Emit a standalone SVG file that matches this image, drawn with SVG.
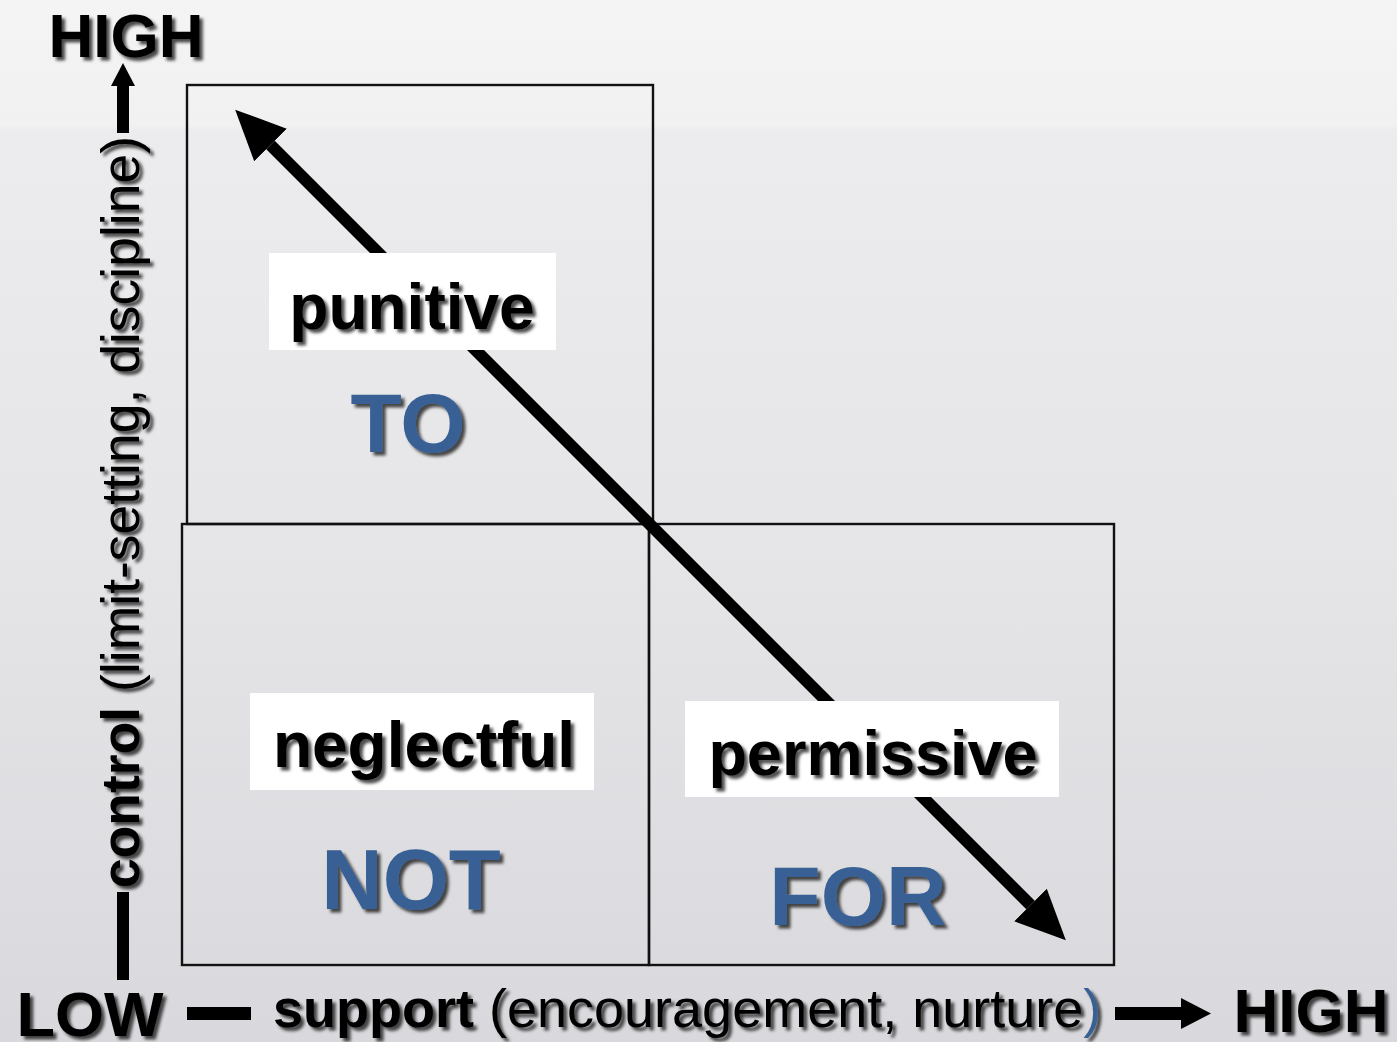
<svg xmlns="http://www.w3.org/2000/svg" width="1397" height="1042" viewBox="0 0 1397 1042">
  <defs>
    <linearGradient id="bg" x1="0" y1="0" x2="0" y2="1">
      <stop offset="0" stop-color="#f4f4f5"/>
      <stop offset="0.12" stop-color="#f1f1f2"/>
      <stop offset="0.125" stop-color="#ececee"/>
      <stop offset="0.5" stop-color="#e6e6e9"/>
      <stop offset="1" stop-color="#d9d9dd"/>
    </linearGradient>
    <filter id="sh" x="-10%" y="-10%" width="130%" height="140%">
      <feDropShadow dx="3.5" dy="3.5" stdDeviation="1.8" flood-color="#000" flood-opacity="0.7"/>
    </filter>
    <marker id="bigHead" markerUnits="userSpaceOnUse" viewBox="0 0 50 46" refX="0" refY="23" markerWidth="50" markerHeight="46" orient="auto-start-reverse">
      <path d="M0,0 L50,23 L0,46 Z" fill="#000"/>
    </marker>
    <marker id="axisHead" markerUnits="userSpaceOnUse" viewBox="0 0 30 31" refX="0" refY="15.5" markerWidth="30" markerHeight="31" orient="auto">
      <path d="M0,0 L30,15.5 L0,31 Z" fill="#000"/>
    </marker>
    <marker id="vHead" markerUnits="userSpaceOnUse" viewBox="0 0 23 24" refX="0" refY="12" markerWidth="23" markerHeight="24" orient="auto">
      <path d="M0,0 L23,12 L0,24 Z" fill="#000"/>
    </marker>
  </defs>
  <style>
    .box { fill: none; stroke: #111; stroke-width: 2.4; }
    .lbl { fill: #ffffff; }
    .word { font-family: "Liberation Sans", Arial, sans-serif; font-weight: bold; fill: #000; }
    .blue { font-family: "Liberation Sans", Arial, sans-serif; font-weight: bold; fill: #386094; }
    .axis { font-family: "Liberation Sans", Arial, sans-serif; fill: #000; }
    .thick { stroke: #000; fill: none; }
  </style>

  <rect x="0" y="0" width="1397" height="1042" fill="url(#bg)"/>

  <!-- quadrant frames -->
  <g id="quad-to">
    <rect class="box" x="187" y="85" width="466" height="439"/>
  </g>
  <g id="quad-not">
    <rect class="box" x="182" y="524" width="467" height="441"/>
  </g>
  <g id="quad-for">
    <rect class="box" x="649" y="524" width="465" height="441"/>
  </g>

  <!-- connectors -->
  <g id="connectors">
    <line class="thick" x1="270.5" y1="145" x2="1030.5" y2="905" stroke-width="12" marker-start="url(#bigHead)" marker-end="url(#bigHead)"/>
    <line class="thick" x1="123" y1="980" x2="123" y2="892" stroke-width="12"/>
    <line class="thick" x1="123" y1="133" x2="123" y2="86" stroke-width="12" marker-end="url(#vHead)"/>
    <line class="thick" x1="187" y1="1013.5" x2="251" y2="1013.5" stroke-width="13"/>
    <line class="thick" x1="1115" y1="1013.5" x2="1181" y2="1013.5" stroke-width="13" marker-end="url(#axisHead)"/>
  </g>

  <!-- quadrant labels -->
  <g id="label-punitive">
    <rect class="lbl" x="269" y="253" width="287" height="97"/>
    <text class="word" x="412" y="329" font-size="64" text-anchor="middle" filter="url(#sh)">punitive</text>
  </g>
  <g id="label-to">
    <text class="blue" x="408" y="452" font-size="84" text-anchor="middle" filter="url(#sh)">TO</text>
  </g>
  <g id="label-neglectful">
    <rect class="lbl" x="250" y="693" width="344" height="97"/>
    <text class="word" x="424" y="767" font-size="64" text-anchor="middle" filter="url(#sh)">neglectful</text>
  </g>
  <g id="label-not">
    <text class="blue" x="411" y="909" font-size="85" text-anchor="middle" filter="url(#sh)">NOT</text>
  </g>
  <g id="label-permissive">
    <rect class="lbl" x="685" y="701" width="374" height="96"/>
    <text class="word" x="873" y="775" font-size="63" text-anchor="middle" filter="url(#sh)">permissive</text>
  </g>
  <g id="label-for">
    <text class="blue" x="858" y="925" font-size="84" text-anchor="middle" filter="url(#sh)">FOR</text>
  </g>

  <!-- axis labels -->
  <g id="axis-labels">
    <text class="axis" x="126" y="57" font-size="62" font-weight="bold" text-anchor="middle" filter="url(#sh)">HIGH</text>
    <text class="axis" x="90" y="1036" font-size="63" font-weight="bold" text-anchor="middle" filter="url(#sh)">LOW</text>
    <text class="axis" x="1311" y="1032" font-size="62" font-weight="bold" text-anchor="middle" filter="url(#sh)">HIGH</text>
    <text class="axis" x="273" y="1027" font-size="54" filter="url(#sh)"><tspan font-weight="bold">support</tspan> (encouragement, nurture<tspan fill="#386094">)</tspan></text>
    <g filter="url(#sh)">
      <text class="axis" transform="translate(139,512) rotate(-90)" font-size="53.5" text-anchor="middle"><tspan font-weight="bold">control</tspan> (limit-setting, discipline)</text>
    </g>
  </g>
</svg>
